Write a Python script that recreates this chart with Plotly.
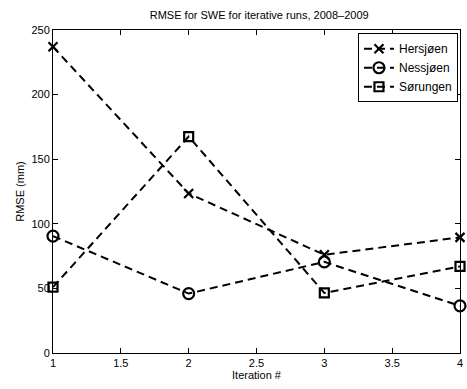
import plotly.graph_objects as go

iterations = [1, 2, 3, 4]
hersjoen = [237, 123.5, 76, 89.5]
nessjoen = [90.5, 46, 70.5, 36.5]
sorungen = [51, 167.5, 46.5, 67]

series = [
    ("Hersjøen", hersjoen, "x-thin-open", 9),
    ("Nessjøen", nessjoen, "circle-open", 11),
    ("Sørungen", sorungen, "square-open", 9),
]

fig = go.Figure()
for name, vals, sym, size in series:
    fig.add_trace(go.Scatter(
        x=iterations, y=vals, name=name, mode="lines+markers",
        line=dict(color="black", width=2, dash="8px,5px"),
        marker=dict(symbol=sym, size=size, color="black",
                    line=dict(color="black", width=2.2)),
        cliponaxis=False,
    ))

font = "Liberation Sans, Arial, Helvetica, sans-serif"
axis_common = dict(
    showgrid=False, zeroline=False, showline=True, linecolor="black",
    linewidth=1, mirror="ticks", ticks="inside", ticklen=5,
    tickcolor="black", tickfont=dict(size=11, color="black", family=font),
)

fig.update_layout(
    width=467, height=389,
    margin=dict(l=53, r=4, t=30, b=36),
    paper_bgcolor="white", plot_bgcolor="white",
    font=dict(family=font, color="black", size=11),
    title=dict(text="RMSE for SWE for iterative runs, 2008\u20132009",
               x=0.555, xanchor="center", y=0.962, yanchor="middle",
               font=dict(size=11, color="black")),
    xaxis=dict(range=[1, 4], tickvals=[1, 1.5, 2, 2.5, 3, 3.5, 4],
               ticktext=["1", "1.5", "2", "2.5", "3", "3.5", "4"],
               title=dict(text="Iteration #", standoff=2,
                          font=dict(size=11, color="black")),
               **axis_common),
    yaxis=dict(range=[0, 250], tickvals=[0, 50, 100, 150, 200, 250],
               title=dict(text="RMSE (mm)", standoff=4,
                          font=dict(size=11, color="black")),
               **axis_common),
    legend=dict(x=0.995, y=0.99, xanchor="right", yanchor="top",
                bgcolor="white", bordercolor="black", borderwidth=1,
                font=dict(size=12, color="black", family=font),
                tracegroupgap=0, itemwidth=30),
    showlegend=True,
)

fig.write_html("out.html")
